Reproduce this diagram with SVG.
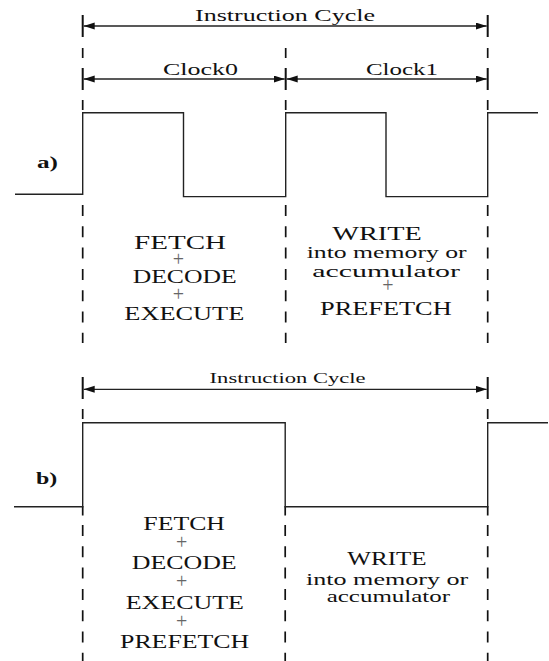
<svg xmlns="http://www.w3.org/2000/svg" width="549" height="661" viewBox="0 0 549 661">
<style>
text{font-family:"Liberation Serif","DejaVu Serif","Noto Serif","Times New Roman",serif;fill:#111}
.t16{font-size:16px}
.t14{font-size:14.5px}
.c20{font-size:19.5px}
.c18{font-size:18px}
.c17{font-size:17.5px}
.lab{font-size:16px;font-weight:bold}
.plus{fill:#666;text-anchor:middle;font-size:20px}
.wave{fill:none;stroke:#222;stroke-width:1.4}
.tick{stroke:#111;stroke-width:2}
.dash{stroke:#111;stroke-width:1.7;stroke-dasharray:11 10.3}
.seg{stroke:#111;stroke-width:1.7}
.arr{stroke:#222;stroke-width:1.3;marker-start:url(#ah);marker-end:url(#ah)}
</style>
<defs>
<marker id="ah" markerUnits="userSpaceOnUse" markerWidth="12" markerHeight="8" refX="11" refY="3.5" orient="auto-start-reverse">
<path d="M0,0 L11,3.5 L0,7 Z" fill="#111"/>
</marker>
</defs>
<rect width="549" height="661" fill="#fff"/>

<g id="connectors">
<line class="tick" x1="82.7" y1="15" x2="82.7" y2="37"/>
<line class="tick" x1="487.7" y1="15" x2="487.7" y2="37"/>
<line class="seg" x1="82.7" y1="48" x2="82.7" y2="58"/>
<line class="seg" x1="285.7" y1="48" x2="285.7" y2="58"/>
<line class="seg" x1="487.7" y1="48" x2="487.7" y2="58"/>
<line class="tick" x1="82.7" y1="68" x2="82.7" y2="90"/>
<line class="tick" x1="285.7" y1="68" x2="285.7" y2="90"/>
<line class="tick" x1="487.7" y1="68" x2="487.7" y2="90"/>
<line class="seg" x1="82.7" y1="100" x2="82.7" y2="110"/>
<line class="seg" x1="285.7" y1="100" x2="285.7" y2="110"/>
<line class="seg" x1="487.7" y1="100" x2="487.7" y2="110"/>
<line class="dash" x1="82.7" y1="205" x2="82.7" y2="343"/>
<line class="dash" x1="285.7" y1="205" x2="285.7" y2="343"/>
<line class="dash" x1="487.7" y1="205" x2="487.7" y2="343"/>
<line class="tick" x1="82.7" y1="377" x2="82.7" y2="399"/>
<line class="tick" x1="487.7" y1="377" x2="487.7" y2="399"/>
<line class="seg" x1="82.7" y1="409" x2="82.7" y2="419"/>
<line class="seg" x1="487.7" y1="409" x2="487.7" y2="419"/>
<line class="seg" x1="82.7" y1="506" x2="82.7" y2="515.5"/>
<line class="seg" x1="285.2" y1="506" x2="285.2" y2="515.5"/>
<line class="seg" x1="487.7" y1="506" x2="487.7" y2="515.5"/>
<line class="dash" x1="82.7" y1="525" x2="82.7" y2="661"/>
<line class="dash" x1="285.2" y1="525" x2="285.2" y2="661"/>
<line class="dash" x1="487.7" y1="525" x2="487.7" y2="661"/>
<line class="arr" x1="83.7" y1="26" x2="486.7" y2="26"/>
<line class="arr" x1="83.7" y1="79" x2="284.7" y2="79"/>
<line class="arr" x1="286.7" y1="79" x2="486.7" y2="79"/>
<line class="arr" x1="83.7" y1="389.3" x2="486.7" y2="389.3"/>
</g>

<g id="wave-a">
<path class="wave" d="M15,194.3 H82.7 V112.8 H183.5 V196.6 H285.7 V112.8 H386 V196.6 H487.7 V112.8 H538"/>
<text class="lab" x="37" y="168" textLength="21" lengthAdjust="spacingAndGlyphs">a)</text>
</g>

<g id="labels-a">
<text class="t16" x="195" y="20.7" textLength="180" lengthAdjust="spacingAndGlyphs">Instruction Cycle</text>
<text class="t16" x="163" y="74.7" textLength="75" lengthAdjust="spacingAndGlyphs">Clock0</text>
<text class="t16" x="366" y="74.7" textLength="72" lengthAdjust="spacingAndGlyphs">Clock1</text>
</g>

<g id="phase-a0">
<text class="c20" x="134" y="249" textLength="92" lengthAdjust="spacingAndGlyphs">FETCH</text>
<text class="plus" x="178.5" y="266">+</text>
<text class="c20" x="132.7" y="283.3" textLength="104" lengthAdjust="spacingAndGlyphs">DECODE</text>
<text class="plus" x="178.5" y="301">+</text>
<text class="c20" x="124.3" y="320" textLength="120" lengthAdjust="spacingAndGlyphs">EXECUTE</text>
</g>

<g id="phase-a1">
<text class="c18" x="332.3" y="240" textLength="89.4" lengthAdjust="spacingAndGlyphs">WRITE</text>
<text class="c17" x="306.7" y="258" textLength="160" lengthAdjust="spacingAndGlyphs">into memory or</text>
<text class="c17" x="312.3" y="276.7" textLength="147.7" lengthAdjust="spacingAndGlyphs">accumulator</text>
<text class="plus" x="388" y="291.5">+</text>
<text class="c18" x="320" y="315" textLength="131.7" lengthAdjust="spacingAndGlyphs">PREFETCH</text>
</g>

<g id="wave-b">
<path class="wave" d="M14,506.7 H82.7 V422.7 H285.2 V506.7 H487.7 V422.7 H548"/>
<text class="lab" x="36" y="483.5" textLength="21.3" lengthAdjust="spacingAndGlyphs">b)</text>
</g>

<g id="labels-b">
<text class="t14" x="209.6" y="383" textLength="156" lengthAdjust="spacingAndGlyphs">Instruction Cycle</text>
</g>

<g id="phase-b0">
<text class="c18" x="143.3" y="530" textLength="81.7" lengthAdjust="spacingAndGlyphs">FETCH</text>
<text class="plus" x="181.7" y="549">+</text>
<text class="c18" x="131.7" y="569.3" textLength="105" lengthAdjust="spacingAndGlyphs">DECODE</text>
<text class="plus" x="181.7" y="588">+</text>
<text class="c18" x="125.7" y="609.3" textLength="118.3" lengthAdjust="spacingAndGlyphs">EXECUTE</text>
<text class="plus" x="181.7" y="627.5">+</text>
<text class="c18" x="120" y="648.3" textLength="129.3" lengthAdjust="spacingAndGlyphs">PREFETCH</text>
</g>

<g id="phase-b1">
<text class="c18" x="347.3" y="565" textLength="79.3" lengthAdjust="spacingAndGlyphs">WRITE</text>
<text class="c17" x="306" y="585" textLength="162.3" lengthAdjust="spacingAndGlyphs">into memory or</text>
<text class="c17" x="326.7" y="601.5" textLength="123.3" lengthAdjust="spacingAndGlyphs">accumulator</text>
</g>
</svg>
